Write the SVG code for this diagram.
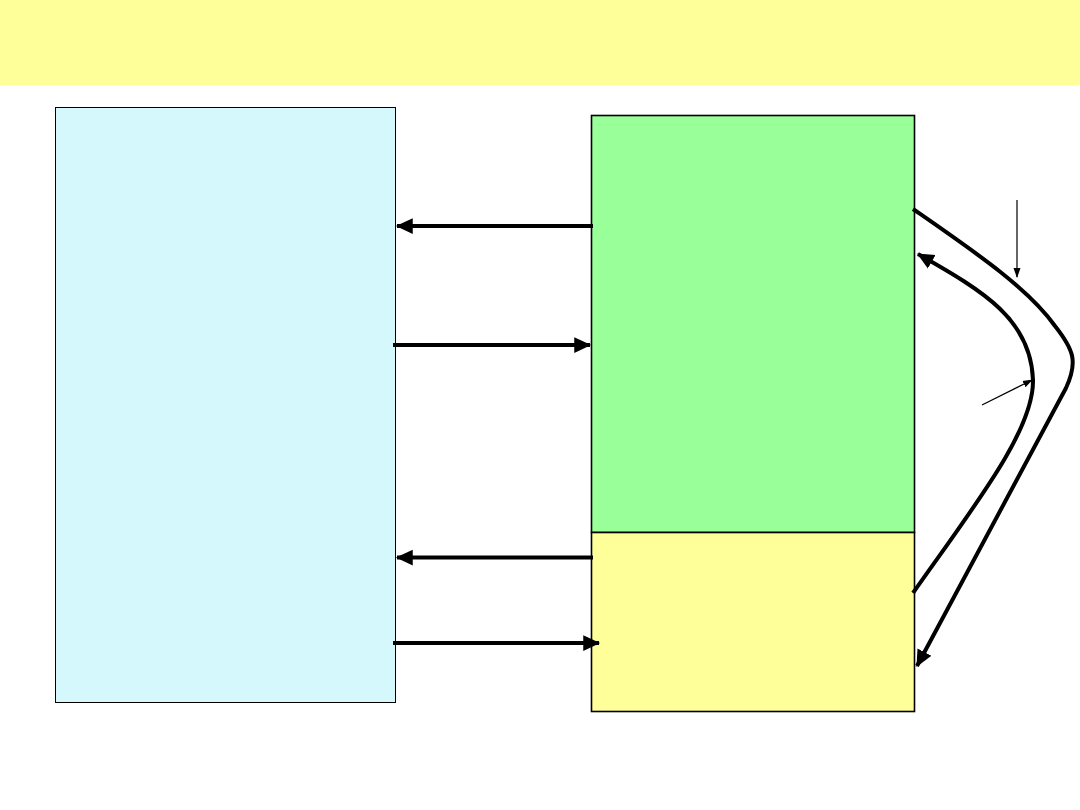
<svg xmlns="http://www.w3.org/2000/svg" width="1080" height="810" viewBox="0 0 1080 810">
<style>
.box{stroke:#000;stroke-width:1}
.box2{stroke:#000;stroke-width:1.6}
.thick{fill:none;stroke:#000;stroke-width:4;stroke-linejoin:round}
.thin{fill:none;stroke:#000;stroke-width:1.2}
</style>
<defs>
<marker id="ah" markerUnits="userSpaceOnUse" markerWidth="18" markerHeight="18" viewBox="0 0 16 16" refX="14" refY="8" orient="auto">
<path d="M0,1 L15,8 L0,15 Z" fill="#000"/>
</marker>
<marker id="ahs" markerUnits="userSpaceOnUse" markerWidth="10" markerHeight="10" viewBox="0 0 10 10" refX="9" refY="5" orient="auto">
<path d="M0,1.5 L10,5 L0,8.5 Z" fill="#000"/>
</marker>
</defs>
<rect width="1080" height="810" fill="#fff"/>
<rect id="header" x="0" y="0" width="1080" height="85" fill="#FFFF99"/>
<g id="left-box"><rect class="box" x="55.5" y="107.5" width="340" height="595" fill="#D5F8FC"/></g>
<g id="green-box"><rect class="box2" x="591.5" y="115.5" width="323" height="417" fill="#99FF99"/></g>
<g id="yellow-box"><rect class="box2" x="591.5" y="532.5" width="323" height="179" fill="#FFFF99"/></g>
<g id="connectors">
<line class="thick" x1="593" y1="226" x2="397" y2="226" marker-end="url(#ah)"/>
<line class="thick" x1="393" y1="345" x2="590" y2="345" marker-end="url(#ah)"/>
<line class="thick" x1="593" y1="557.5" x2="397" y2="557.5" marker-end="url(#ah)"/>
<line class="thick" x1="393" y1="643" x2="599" y2="643" marker-end="url(#ah)"/>
<path class="thick" d="M913,209 C975,252 1028,288 1055,326 C1074,350 1078,362 1066,388 L917,666" marker-end="url(#ah)"/>
<path class="thick" d="M913,593 C975,505 1034,430 1033,380 C1031,320 985,292 918,254" marker-end="url(#ah)"/>
<line class="thin" x1="1017" y1="200" x2="1017" y2="277" marker-end="url(#ahs)"/>
<line class="thin" x1="982" y1="405" x2="1032" y2="380" marker-end="url(#ahs)"/>
</g>
</svg>
